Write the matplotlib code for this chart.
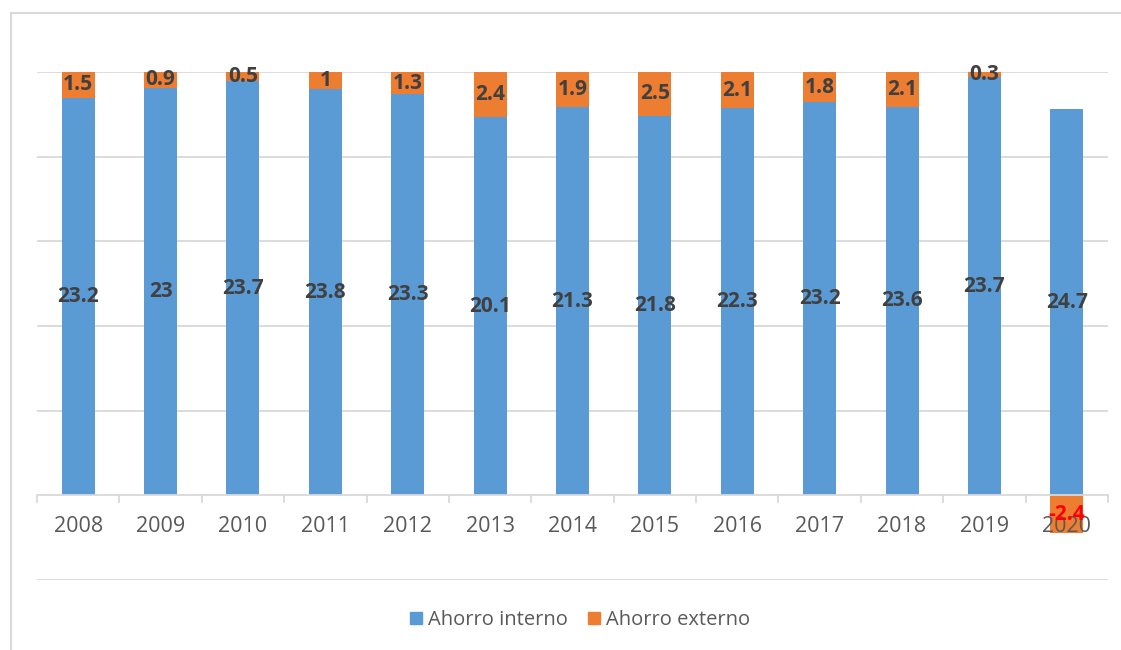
import numpy as np
import matplotlib
matplotlib.use("Agg")
import matplotlib.pyplot as plt
from matplotlib.lines import Line2D

years = ["2008", "2009", "2010", "2011", "2012", "2013", "2014",
         "2015", "2016", "2017", "2018", "2019", "2020"]
ahorro_interno = [23.2, 23, 23.7, 23.8, 23.3, 20.1, 21.3, 21.8, 22.3, 23.2, 23.6, 23.7, 24.7]
ahorro_externo = [1.5, 0.9, 0.5, 1, 1.3, 2.4, 1.9, 2.5, 2.1, 1.8, 2.1, 0.3, -2.4]

BLUE = "#5B9BD5"
ORANGE = "#ED7D31"
GRID = "#D9D9D9"

plt.rcParams["font.family"] = ["Open Sans", "DejaVu Sans"]

# 100% stacked, shares taken on absolute values (like Excel)
interno = np.array(ahorro_interno)
externo = np.array(ahorro_externo)
total = np.abs(interno) + np.abs(externo)
p_int = interno / total
p_ext = externo / total
bottom_ext = np.where(p_ext >= 0, p_int, 0)

fig = plt.figure(figsize=(11.21, 6.5), dpi=100)
ax = fig.add_axes([37 / 1121, 70 / 650, (1108 - 37) / 1121, (580 - 72) / 650])

x = np.arange(len(years))
ax.bar(x, p_int, width=0.4, color=BLUE, zorder=3)
ax.bar(x, p_ext, width=0.4, bottom=bottom_ext, color=ORANGE, zorder=3)

for i in range(len(years)):
    ax.text(x[i], p_int[i] / 2, f"{ahorro_interno[i]:g}", ha="center", va="center",
            fontsize=15, fontweight="bold", color="#404040", zorder=5)
    ext_color = "#404040" if ahorro_externo[i] >= 0 else "#FF0000"
    ax.text(x[i], bottom_ext[i] + p_ext[i] / 2, f"{ahorro_externo[i]:g}", ha="center",
            va="center", fontsize=15, fontweight="bold", color=ext_color, zorder=5)

ax.set_xlim(-0.5, len(years) - 0.5)
ax.set_ylim(-0.2, 1.0)
for y in [-0.2, 0.2, 0.4, 0.6, 0.8, 1.0]:
    ax.axhline(y, color=GRID, lw=1.3, zorder=1)
ax.axhline(0, color=GRID, lw=1.3, zorder=4)

for s in ax.spines.values():
    s.set_visible(False)
ax.set_yticks([])
ax.set_xticks([])
# category labels sit just under the zero line
for i, yr in enumerate(years):
    ax.text(x[i], -0.073, yr, ha="center", va="center", fontsize=15.5,
            color="#595959", zorder=4)
# category separator ticks on the baseline
for b in np.arange(-0.5, len(years), 1.0):
    ax.plot([b, b], [0, -0.015], color=GRID, lw=1.3, zorder=4, clip_on=False)

handles = [Line2D([], [], marker="s", ls="", markersize=9, color=BLUE),
           Line2D([], [], marker="s", ls="", markersize=9, color=ORANGE)]
fig.legend(handles, ["Ahorro interno", "Ahorro externo"], loc="center",
           bbox_to_anchor=(576 / 1121, 1 - 620 / 650), ncol=2, frameon=False,
           fontsize=14.5, labelcolor="#595959", handletextpad=-0.1,
           columnspacing=0.6, handlelength=1.4)

# chart area border (left and top visible)
fig.add_artist(Line2D([11 / 1121, 11 / 1121], [0, 1 - 13 / 650], color=GRID, lw=1.5))
fig.add_artist(Line2D([11 / 1121, 1], [1 - 13 / 650, 1 - 13 / 650], color=GRID, lw=1.5))

fig.savefig("out.png", dpi=100)
